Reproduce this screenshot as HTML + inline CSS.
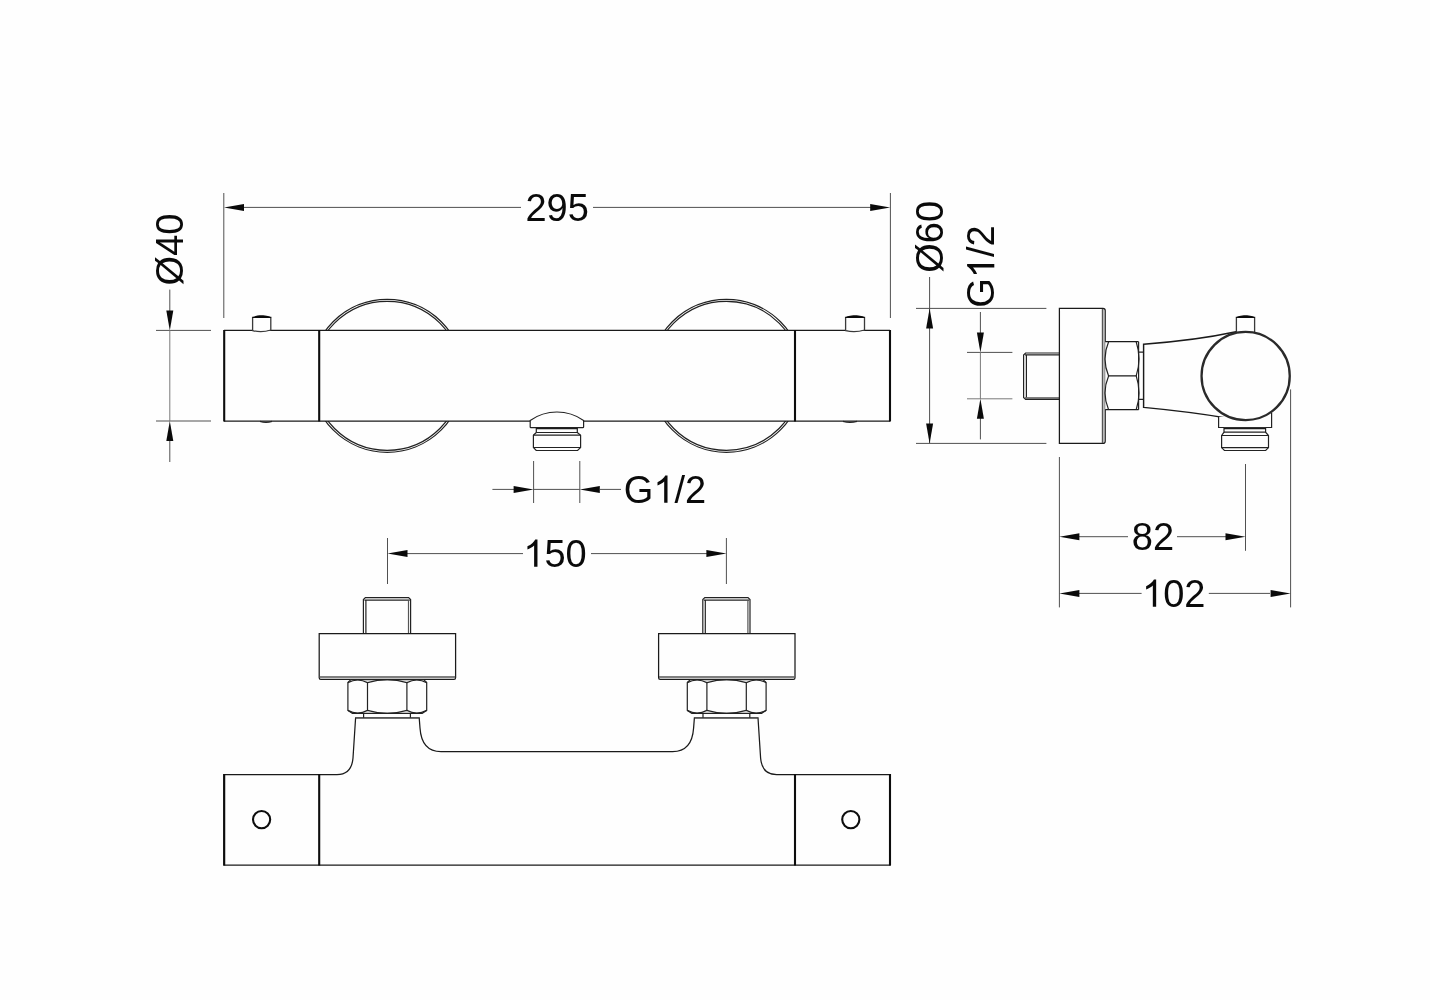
<!DOCTYPE html>
<html>
<head>
<meta charset="utf-8">
<title>Thermostatic mixer - technical drawing</title>
<style>
html,body{margin:0;padding:0;background:#fefefe;}
body{width:1430px;height:1000px;overflow:hidden;font-family:"Liberation Sans",sans-serif;}
svg{display:block;will-change:transform;}
text{font-family:"Liberation Sans",sans-serif;font-size:38px;fill:#0a0a0a;}
.k{stroke:#0d0d0d;stroke-width:2.1;fill:none;}
.m{stroke:#1a1a1a;stroke-width:1.25;fill:none;}
.n{stroke:#222;stroke-width:1.2;fill:none;}
.g{stroke:#555;stroke-width:1.6;fill:none;}
.d{stroke:#505050;stroke-width:1;fill:none;}
.dl{stroke:#7a7a7a;stroke-width:1;fill:none;}
.a{fill:#0a0a0a;stroke:none;}
.p{stroke:#3a3a3a;stroke-width:1.3;fill:none;}
.f{fill:#fefefe;}
</style>
</head>
<body>
<svg width="1430" height="1000" viewBox="0 0 1430 1000">
<rect x="0" y="0" width="1430" height="1000" fill="#fefefe"/>
<defs>
  <path id="one" transform="scale(0.0185547 -0.0185547)" fill="#0a0a0a" d="M763 0H583V1147Q518 1085 412.5 1023T223 930V1104Q373 1174.5 485.5 1275T644 1466H763Z"/>
</defs>

<!-- ================= FRONT VIEW ================= -->
<g id="front">
  <!-- rosettes (double circles) -->
  <circle class="n" cx="387.2" cy="375.8" r="76.5" stroke-width="0.95"/>
  <circle class="n" cx="387.2" cy="375.8" r="74.5" stroke-width="0.95"/>
  <circle class="n" cx="726.4" cy="375.8" r="76.5" stroke-width="0.95"/>
  <circle class="n" cx="726.4" cy="375.8" r="74.5" stroke-width="0.95"/>
  <!-- body -->
  <rect x="224" y="330.4" width="666" height="90.6" fill="#fefefe" stroke="none"/>
  <path class="m" d="M224 330.4H890M224 421H890"/>
  <path class="k" d="M224.2 330V421.6M319.2 330V421.6M795 330V421.6M890 330V421.6"/>
  <path class="n" d="M260 421.4Q266 423.4 272 421.4M843 421.4Q850 423.4 857 421.4" stroke-width="1.5"/>
  <!-- pins -->
  <path class="p f" d="M252.6 330V317.4H270.8V330Q261.7 333 252.6 330.6Z"/>
  <path class="a" d="M252 318C254 314.4 269.4 314.4 271.4 318Z"/>
  <path class="p f" d="M845.6 330V317.4H864.5V330Q855 333 845.6 330.6Z"/>
  <path class="a" d="M845 318C847 314.4 863.1 314.4 865.1 318Z"/>
  <!-- outlet -->
  <path class="n f" d="M533.4 435.2L536.3 432.5V428H577.3V432.5L580.6 435.2V447.5L577.6 450.5H536.2L533.4 447.5Z"/>
  <path class="n" d="M533.4 435.2H580.6M533.4 447.5H580.6M536.3 432.5H577.3"/>
  <path class="m" d="M536.3 428.7H577.3" stroke-width="2"/>
  <path class="n f" d="M530.2 420.4A46.6 46.6 0 0 1 583.6 420.4V426.9Q583.6 427.7 582.8 427.7H531Q530.2 427.7 530.2 426.9Z"/>
</g>

<!-- ================= FRONT VIEW DIMENSIONS ================= -->
<g id="frontdims">
  <!-- 295 -->
  <path class="d" d="M223.8 193V318M890.4 193V318"/>
  <path class="d" d="M243 207.4H521M593 207.4H871"/>
  <path class="a" d="M224 207.4L244 203.9V210.9Z"/>
  <path class="a" d="M890.2 207.4L870.2 203.9V210.9Z"/>
  <text x="525.4" y="221.4">295</text>
  <!-- dia 40 -->
  <path class="d" d="M156 330.4H211M156 421H211"/>
  <path class="d" d="M169.8 289.6V311M169.8 440V462"/>
  <path class="dl" d="M169.8 330V421"/>
  <path class="a" d="M169.8 330.4L166.3 310.4H173.3Z"/>
  <path class="a" d="M169.8 421L166.3 441H173.3Z"/>
  <text transform="translate(183.4 285.4) rotate(-90)" x="0" y="0">Ø40</text>
  <!-- G1/2 outlet -->
  <path class="d" d="M533.6 461V503M579.8 461V503"/>
  <path class="d" d="M492.4 489.4H514M533.6 489.4H579.8M600 489.4H621"/>
  <path class="a" d="M533.6 489.4L513.6 485.9V492.9Z"/>
  <path class="a" d="M579.8 489.4L599.8 485.9V492.9Z"/>
  <g transform="translate(623.8 502.7)"><text x="0" y="0">G</text><use href="#one" x="29.56" y="0"/><text x="50.69" y="0">/2</text></g>
</g>

<!-- ================= SIDE VIEW ================= -->
<g id="side">
  <!-- threaded stub -->
  <path class="n f" d="M1059.6 353H1025.6L1023.6 355V397.4L1025.6 399.4H1059.6Z"/>
  <path class="n" d="M1025 354.8H1059.6M1026.4 354.8V397.6"/>
  <path class="g" d="M1025 398H1059.6"/>
  <!-- flange -->
  <path class="m f" d="M1059.4 308.4H1103Q1105.2 308.4 1105.2 310.6V441.2Q1105.2 443.4 1103 443.4H1059.4Z"/>
  <path class="g" d="M1102.6 309V443"/>
  <!-- nut -->
  <rect x="1105.2" y="341.7" width="33.4" height="68" fill="#fefefe" stroke="none"/>
  <path class="m" d="M1105.2 341.7H1138.6M1108 375.9H1137M1105.2 409.7H1138.6"/>
  <path class="n" d="M1138.6 341.7V409.7"/>
  <path class="n" d="M1108.6 341.7Q1101.4 358.8 1108.6 375.9Q1101.4 392.8 1108.6 409.7"/>
  <path class="n" d="M1136.2 341.7Q1141.8 358.8 1136.2 375.9Q1141.8 392.8 1136.2 409.7"/>
  <!-- connector -->
  <path class="n" d="M1138.6 352.2H1143.6M1138.6 399.4H1143.6"/>
  <!-- taper body -->
  <path class="m f" style="stroke-width:1.45" d="M1143.6 344.2Q1195 340.6 1236 331.8L1228 418.2Q1190 411.8 1143.6 407.4Z"/>
  <!-- cap under circle -->
  <path class="n f" d="M1218.6 416.9V427.5H1271.6V413"/>
  <!-- pin -->
  <path class="p f" d="M1236.4 333V317.4H1254.6V333Z"/>
  <path class="a" d="M1235.8 318C1237.8 314.4 1253.2 314.4 1255.2 318Z"/>
  <!-- main circle -->
  <circle cx="1245.65" cy="376" r="44.1" fill="#fefefe" stroke="#2a2a2a" stroke-width="2.3"/>
  <!-- outlet -->
  <path class="n f" d="M1221.6 435.5L1224 432.2V427.8H1265.6V432.2L1268.5 435.5V447.6L1265.7 450.5H1224.4L1221.6 447.6Z"/>
  <path class="n" d="M1221.6 435.5H1268.5M1221.6 447.6H1268.5M1224 432.2H1265.6"/>
  <path class="m" d="M1224 428.5H1265.6" stroke-width="1.8"/>
</g>

<!-- ================= SIDE VIEW DIMENSIONS ================= -->
<g id="sidedims">
  <!-- dia 60 -->
  <path class="d" d="M916 308.4H1046.4M916 443.4H1046.4"/>
  <path class="d" d="M929.6 277V443"/>
  <path class="a" d="M929.6 308.4L926.1 328.4H933.1Z"/>
  <path class="a" d="M929.6 443.4L926.1 423.4H933.1Z"/>
  <text transform="translate(943.2 272.8) rotate(-90)" x="0" y="0">Ø60</text>
  <!-- G1/2 -->
  <path class="d" d="M967 352.4H1012.4"/>
  <path class="dl" d="M967 398.8H1012.4"/>
  <path class="d" d="M980.4 312V333M980.4 418V439.4"/>
  <path class="dl" d="M980.4 352V399"/>
  <path class="a" d="M980.4 352.4L976.9 332.4H983.9Z"/>
  <path class="a" d="M980.4 398.8L976.9 418.8H983.9Z"/>
  <g transform="translate(994.3 307.8) rotate(-90)"><text x="0" y="0">G</text><use href="#one" x="29.56" y="0"/><text x="50.69" y="0">/2</text></g>
  <!-- 82 / 102 -->
  <path class="d" d="M1059.4 457V607.4M1245.5 464V550.8M1290.6 389.4V607.4"/>
  <path class="d" d="M1079 536.7H1128M1177 536.7H1226"/>
  <path class="a" d="M1059.4 536.7L1079.4 533.2V540.2Z"/>
  <path class="a" d="M1245.5 536.7L1225.5 533.2V540.2Z"/>
  <text x="1131.8" y="549.6">82</text>
  <path class="d" d="M1079 593.4H1141.6M1208.8 593.4H1270"/>
  <path class="a" d="M1059.4 593.4L1079.4 589.9V596.9Z"/>
  <path class="a" d="M1290.6 593.4L1270.6 589.9V596.9Z"/>
  <g transform="translate(1142 606.7)"><use href="#one" x="0" y="0"/><text x="21.13" y="0">02</text></g>
</g>

<!-- ================= BOTTOM VIEW ================= -->
<g id="bottom">
  <!-- body outline -->
  <path class="m f" d="M224 774.6H337Q351.6 774.6 353 758L355.6 717.8H419.2L420 728Q421.6 751.6 441 751.6H672.6Q692 751.6 693.6 728L694.4 717.8H758L760.6 758Q762 774.6 776.6 774.6H890V865H224Z"/>
  <path class="k" d="M224.2 774V865.6M319.2 774V865.6M795 774V865.6M890 774V865.6"/>
  <path class="g" d="M355.6 717.8H419.2M694.4 717.8H758"/>
  <circle class="k" cx="261.6" cy="819.6" r="8.6" stroke-width="1.7"/>
  <circle class="k" cx="850.8" cy="819.6" r="8.6" stroke-width="1.7"/>
</g>
<g id="conL">
  <!-- stub -->
  <path class="n f" d="M363.4 633.6V599.6L365.4 597.6H408.6L410.6 599.6V633.6Z"/>
  <path class="n" d="M364.4 600.2H409.8"/>
  <path class="n" d="M365.9 600V633.6" stroke="#444" stroke-width="1.4"/>
  <path class="n" d="M408.5 600.2V633.6" stroke-width="0.9" style="stroke:#555"/>
  <!-- flange -->
  <path class="m f" d="M319.2 633.6H455.6V677.8Q455.6 679.4 454 679.4H320.8Q319.2 679.4 319.2 677.8Z"/>
  <path class="g" d="M319.6 677H455.2" stroke-width="1.2"/>
  <!-- nut -->
  <path class="n f" d="M347.9 682.4L351 679.6H423.6L426.7 682.4V710.4L422.2 713.3H352.4L347.9 710.4Z"/>
  <path class="n" d="M367.5 682.4V710.6M406.9 682.4V710.6"/>
  <path class="n" d="M347.9 682.6Q357.7 677.4 367.5 682.6Q387.2 676.6 406.9 682.6Q416.8 677.4 426.7 682.6"/>
  <path class="n" d="M347.9 710.4Q357.7 715.6 367.5 710.4Q387.2 716.4 406.9 710.4Q416.8 715.6 426.7 710.4"/>
  <!-- connector -->
  <path class="n" d="M363.6 713.3V717.8M410.4 713.3V717.8"/>
</g>
<use href="#conL" transform="translate(339.4 0)"/>

<!-- ================= BOTTOM VIEW DIMENSIONS ================= -->
<g id="botdims">
  <path class="d" d="M387.5 538V584M726.4 538V584"/>
  <path class="d" d="M407 553.6H523M591 553.6H707"/>
  <path class="a" d="M387.5 553.6L407.5 550.1V557.1Z"/>
  <path class="a" d="M726.4 553.6L706.4 550.1V557.1Z"/>
  <g transform="translate(523.3 566.8)"><use href="#one" x="0" y="0"/><text x="21.13" y="0">50</text></g>
</g>
</svg>
</body>
</html>
